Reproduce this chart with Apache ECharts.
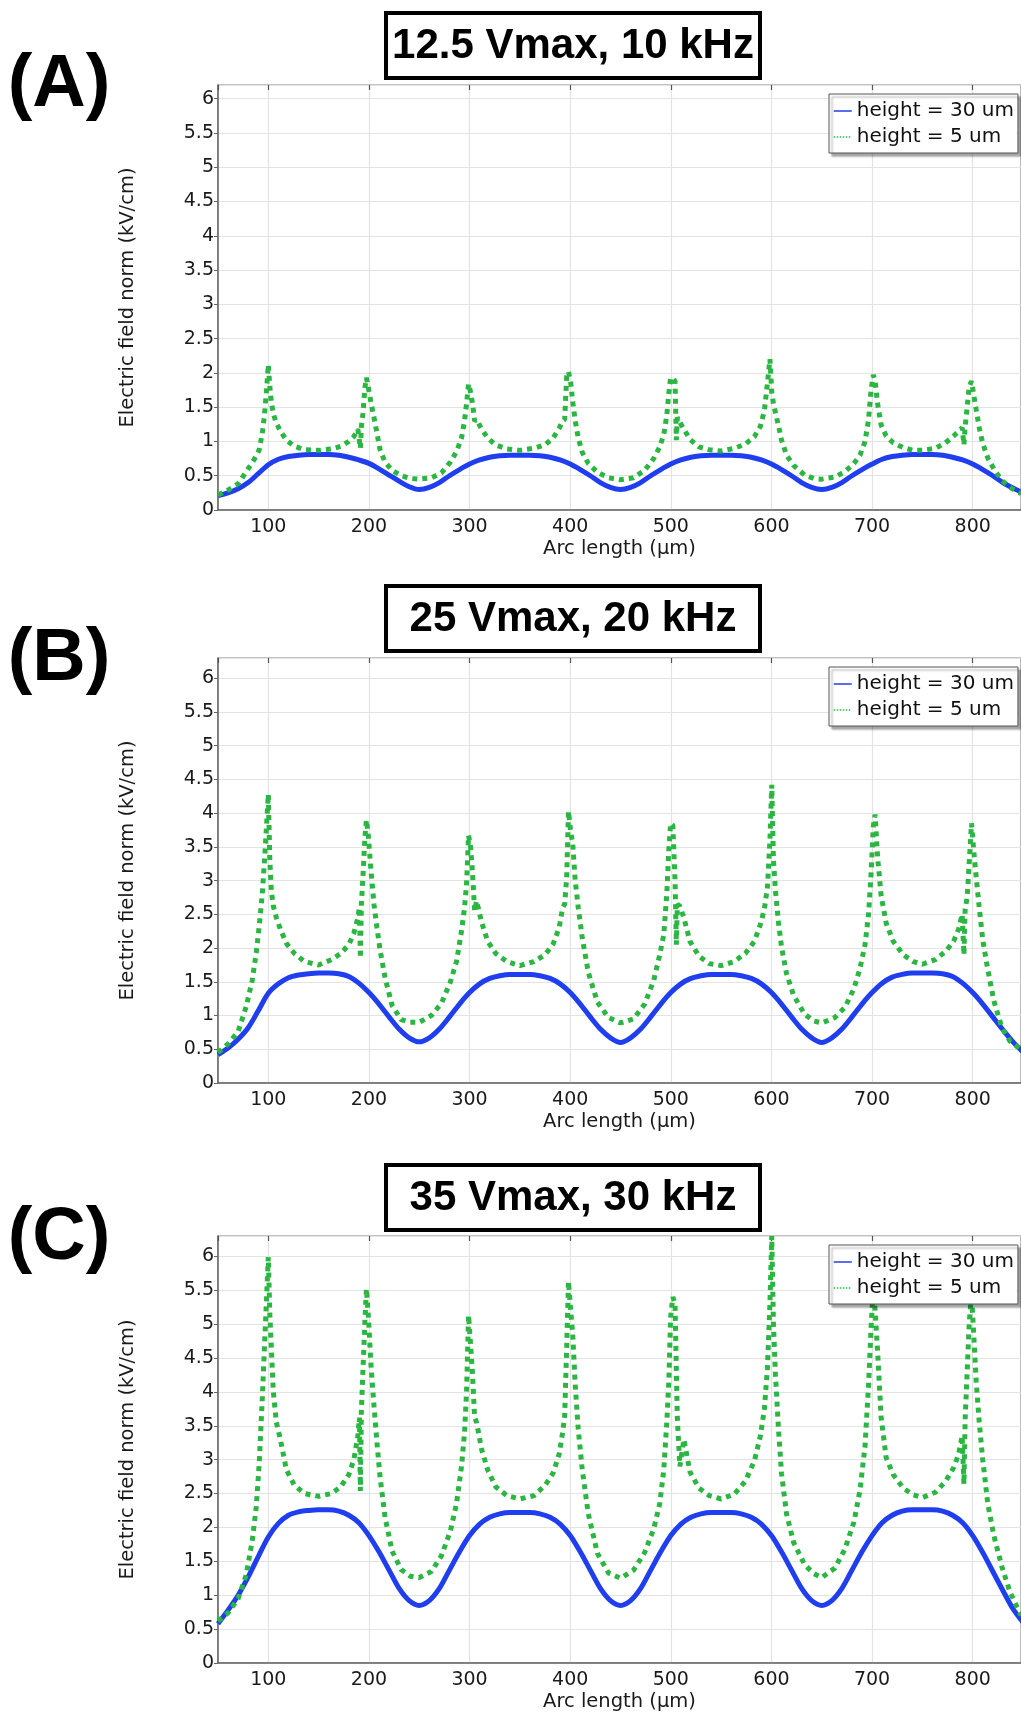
<!DOCTYPE html>
<html>
<head>
<meta charset="utf-8">
<script src="https://cdn.jsdelivr.net/npm/echarts@6/dist/echarts.min.js"></script>
<style>
  html, body { margin: 0; padding: 0; background: #fff; }
  #chart { width: 1021px; height: 1713px; }
</style>
</head>
<body>
<div id="chart"></div>
<script>
// panel headings
var panelTitles = ['12.5 Vmax, 10 kHz', '25 Vmax, 20 kHz', '35 Vmax, 30 kHz'];
var panelLetters = ['(A)', '(B)', '(C)'];
var yMaxes = [6.2, 6.3, 6.3];
var seriesNames = ['height = 30 um', 'height = 5 um'];

// height = 30 um, sampled every 10 um from 50 to 850
var blueX = [50, 60, 70, 80, 90, 100, 110, 120, 130, 140,
  150, 160, 170, 180, 190, 200, 210, 220, 230, 240,
  250, 260, 270, 280, 290, 300, 310, 320, 330, 340,
  350, 360, 370, 380, 390, 400, 410, 420, 430, 440,
  450, 460, 470, 480, 490, 500, 510, 520, 530, 540,
  550, 560, 570, 580, 590, 600, 610, 620, 630, 640,
  650, 660, 670, 680, 690, 700, 710, 720, 730, 740,
  750, 760, 770, 780, 790, 800, 810, 820, 830, 840,
  850];
var blueA = [0.21, 0.25, 0.31, 0.40, 0.53, 0.66, 0.74, 0.78, 0.80, 0.81,
  0.81, 0.81, 0.80, 0.77, 0.73, 0.68, 0.60, 0.51, 0.42, 0.34,
  0.30, 0.33, 0.40, 0.50, 0.59, 0.67, 0.73, 0.77, 0.79, 0.80,
  0.80, 0.80, 0.79, 0.77, 0.73, 0.67, 0.59, 0.50, 0.40, 0.33,
  0.30, 0.33, 0.40, 0.50, 0.59, 0.67, 0.73, 0.77, 0.79, 0.80,
  0.80, 0.80, 0.79, 0.77, 0.73, 0.67, 0.59, 0.50, 0.40, 0.33,
  0.30, 0.33, 0.40, 0.50, 0.59, 0.67, 0.74, 0.78, 0.80, 0.81,
  0.81, 0.81, 0.80, 0.77, 0.73, 0.67, 0.59, 0.50, 0.40, 0.32,
  0.25];
var blueB = [0.42, 0.52, 0.65, 0.82, 1.07, 1.33, 1.47, 1.56, 1.60, 1.62,
  1.63, 1.63, 1.62, 1.58, 1.48, 1.34, 1.17, 0.98, 0.80, 0.67,
  0.61, 0.67, 0.80, 0.98, 1.17, 1.34, 1.47, 1.55, 1.59, 1.61,
  1.61, 1.61, 1.59, 1.55, 1.47, 1.34, 1.17, 0.98, 0.80, 0.67,
  0.60, 0.67, 0.80, 0.98, 1.17, 1.34, 1.47, 1.55, 1.59, 1.61,
  1.61, 1.61, 1.59, 1.55, 1.47, 1.34, 1.17, 0.98, 0.80, 0.67,
  0.60, 0.67, 0.80, 0.98, 1.17, 1.34, 1.48, 1.57, 1.61, 1.63,
  1.63, 1.63, 1.62, 1.58, 1.48, 1.34, 1.17, 0.98, 0.79, 0.61,
  0.46];
var blueC = [0.58, 0.78, 1.00, 1.27, 1.57, 1.86, 2.06, 2.18, 2.23, 2.25,
  2.26, 2.26, 2.24, 2.18, 2.07, 1.88, 1.64, 1.37, 1.10, 0.92,
  0.85, 0.92, 1.10, 1.37, 1.64, 1.88, 2.05, 2.15, 2.20, 2.22,
  2.22, 2.22, 2.20, 2.15, 2.05, 1.88, 1.64, 1.37, 1.10, 0.92,
  0.85, 0.92, 1.10, 1.37, 1.64, 1.88, 2.05, 2.15, 2.20, 2.22,
  2.22, 2.22, 2.20, 2.15, 2.05, 1.88, 1.64, 1.37, 1.10, 0.92,
  0.85, 0.92, 1.10, 1.37, 1.64, 1.88, 2.07, 2.18, 2.24, 2.26,
  2.26, 2.26, 2.24, 2.18, 2.07, 1.88, 1.63, 1.35, 1.07, 0.80,
  0.60];

// height = 5 um, denser near the electrode edges (one row per stretch)
var greenX = [50, 60, 70, 78, 84, 88, 91, 94, 96, 98, 100,
  101.5, 103, 105, 108, 112, 118, 126, 136,
  150, 163, 172, 180, 185, 189,
  190.5, 191.5, 192.5,
  194, 196, 197.5, 199.5, 202, 205, 208, 211, 216, 223, 232, 241,
  250, 262, 272, 281, 287, 292, 295, 297,
  299, 301, 303, 305, 307, 312, 318, 326, 337,
  350, 364, 375, 383, 389, 392.5, 394.5, 396.5, 398.3, 400.5, 402.5, 405, 408, 412, 418, 427, 438,
  450, 463, 474, 483, 489, 493, 496, 498, 499.8, 502, 504.2, 505.5, 506.5, 509, 513, 519, 528, 538,
  550, 563, 574, 583, 589, 593, 596, 598.5, 600.3, 602, 604, 607, 610, 615, 622, 633, 642,
  650, 663, 673, 682, 688, 693, 696.5, 699, 701.2, 703, 705.5, 709, 714, 721, 731, 741,
  750, 763, 773, 781, 786, 789.5, 791.3, 792.5, 794.5, 796.5, 798.8, 801, 803.5, 806.5, 810, 815, 821, 829, 837, 848];
var greenA = [0.22, 0.29, 0.38, 0.56, 0.69, 0.79, 0.88, 1.12, 1.36, 1.70, 2.12,
  1.80, 1.58, 1.40, 1.27, 1.15, 1.02, 0.93, 0.88,
  0.87, 0.89, 0.93, 1.00, 1.07, 1.18,
  1.20, 0.90, 1.22,
  1.40, 1.78, 1.93, 1.78, 1.57, 1.35, 1.12, 0.88, 0.70, 0.58, 0.50, 0.46,
  0.45, 0.47, 0.54, 0.70, 0.85, 1.05, 1.30, 1.55,
  1.84, 1.72, 1.55, 1.30, 1.32, 1.18, 1.05, 0.95, 0.89,
  0.87, 0.90, 0.95, 1.05, 1.19, 1.30, 1.32, 1.95, 2.02, 1.86, 1.58, 1.30, 1.05, 0.84, 0.68, 0.55, 0.47,
  0.44, 0.47, 0.58, 0.75, 0.92, 1.10, 1.38, 1.70, 1.93, 1.92, 1.88, 1.02, 1.35, 1.28, 1.18, 1.03, 0.92, 0.88,
  0.86, 0.90, 0.96, 1.07, 1.22, 1.45, 1.85, 2.20, 1.72, 1.55, 1.42, 1.23, 1.02, 0.80, 0.65, 0.51, 0.46,
  0.45, 0.48, 0.56, 0.68, 0.80, 1.00, 1.32, 1.75, 1.97, 1.88, 1.55, 1.24, 1.08, 0.98, 0.91, 0.87,
  0.87, 0.90, 0.98, 1.08, 1.15, 1.20, 0.95, 1.22, 1.50, 1.80, 1.88, 1.68, 1.46, 1.20, 0.97, 0.76, 0.60, 0.43, 0.33, 0.24];
var greenB = [0.45, 0.58, 0.76, 1.13, 1.52, 1.93, 2.33, 2.80, 3.25, 3.75, 4.28,
  3.30, 2.85, 2.62, 2.45, 2.28, 2.07, 1.92, 1.80,
  1.75, 1.83, 1.92, 2.05, 2.22, 2.45,
  2.60, 1.85, 2.65,
  3.05, 3.65, 3.90, 3.65, 3.15, 2.65, 2.30, 1.98, 1.56, 1.15, 0.94, 0.90,
  0.90, 1.00, 1.18, 1.50, 1.80, 2.25, 2.60, 2.95,
  3.67, 3.50, 3.10, 2.55, 2.70, 2.38, 2.10, 1.92, 1.80,
  1.74, 1.80, 1.90, 2.06, 2.30, 2.60, 2.65, 3.05, 4.03, 3.72, 3.55, 3.00, 2.60, 2.15, 1.64, 1.20, 0.97,
  0.89, 0.95, 1.17, 1.52, 1.90, 2.20, 2.80, 3.45, 3.85, 3.82, 3.00, 2.05, 2.65, 2.62, 2.45, 2.10, 1.88, 1.77,
  1.74, 1.80, 1.92, 2.10, 2.35, 2.58, 2.90, 3.60, 4.42, 3.30, 2.85, 2.38, 2.02, 1.62, 1.30, 1.02, 0.92,
  0.89, 0.97, 1.12, 1.40, 1.70, 2.05, 2.50, 3.10, 3.80, 3.98, 3.35, 2.78, 2.37, 2.10, 1.90, 1.80,
  1.76, 1.83, 1.95, 2.10, 2.28, 2.50, 1.90, 2.58, 2.75, 3.25, 3.85, 3.45, 3.05, 2.60, 2.12, 1.68, 1.22, 0.82, 0.62, 0.50];
var greenC = [0.62, 0.74, 0.95, 1.30, 1.80, 2.30, 2.95, 3.90, 4.60, 5.30, 5.99,
  5.15, 4.65, 4.00, 3.55, 3.30, 2.85, 2.62, 2.50,
  2.46, 2.50, 2.60, 2.78, 3.00, 3.35,
  3.62, 2.54, 3.72,
  4.30, 5.05, 5.52, 5.10, 4.40, 3.80, 3.25, 2.75, 2.15, 1.65, 1.38, 1.28,
  1.26, 1.35, 1.58, 1.95, 2.35, 2.90, 3.40, 4.00,
  5.13, 4.70, 4.25, 3.62, 3.55, 3.15, 2.85, 2.60, 2.47,
  2.42, 2.47, 2.62, 2.80, 3.08, 3.40, 3.65, 4.65, 5.63, 5.20, 4.85, 4.10, 3.45, 2.85, 2.20, 1.62, 1.33,
  1.25, 1.37, 1.63, 1.98, 2.35, 2.85, 3.55, 4.15, 5.10, 5.40, 5.30, 4.30, 3.60, 2.90, 3.30, 2.82, 2.58, 2.47,
  2.42, 2.49, 2.68, 2.98, 3.35, 3.75, 4.35, 5.30, 6.30, 5.00, 4.25, 3.45, 2.80, 2.20, 1.78, 1.45, 1.32,
  1.26, 1.40, 1.68, 2.08, 2.55, 3.20, 4.10, 4.95, 5.55, 5.20, 4.60, 3.62, 3.03, 2.78, 2.58, 2.48,
  2.44, 2.52, 2.68, 2.88, 3.08, 3.35, 2.64, 3.60, 4.30, 5.00, 5.45, 4.85, 4.15, 3.55, 3.00, 2.35, 1.88, 1.42, 1.05, 0.70];

var blueSets = [blueA, blueB, blueC];
var greenSets = [greenA, greenB, greenC];

// layout of the three panels (pixels)
var gridTops = [85, 658, 1236];
var gridHeights = [425, 425, 432];
var boxTops = [13, 586, 1165];
var letterYs = [86, 660, 1239];

var BLUE = '#1f3ef0';
var GREEN = '#2bb541';
var FONT = 'DejaVu Sans';

function pairs(xs, ys) {
  return xs.map(function (x, i) { return [x, ys[i]]; });
}

var grids = [], xAxes = [], yAxes = [], series = [], legends = [], graphics = [];

for (var i = 0; i < 3; i++) {
  grids.push({
    left: 218, right: -2, top: gridTops[i], height: gridHeights[i],
    show: true, borderColor: '#888', borderWidth: 1.2
  });
  xAxes.push({
    gridIndex: i, type: 'value', min: 50, max: 848, splitNumber: 8,
    name: 'Arc length (\u00b5m)', nameLocation: 'middle', nameGap: 29,
    nameTextStyle: {fontFamily: FONT, fontSize: 19.5, color: '#1a1a1a'},
    axisLine: {lineStyle: {color: '#666', width: 1.5}},
    axisTick: {show: false},
    axisLabel: {fontFamily: FONT, fontSize: 19, color: '#1a1a1a', margin: 8,
      showMinLabel: false, showMaxLabel: false},
    splitLine: {lineStyle: {color: '#e3e3e3', width: 1.2}}
  });
  yAxes.push({
    gridIndex: i, type: 'value', min: 0, max: yMaxes[i], interval: 0.5,
    name: 'Electric field norm (kV/cm)', nameLocation: 'middle', nameGap: 80,
    nameTextStyle: {fontFamily: FONT, fontSize: 19.5, color: '#1a1a1a'},
    axisLine: {show: true, lineStyle: {color: '#666', width: 1.5}},
    axisTick: {show: true, length: 4, lineStyle: {color: '#666'}},
    axisLabel: {fontFamily: FONT, fontSize: 19, color: '#1a1a1a', margin: 4,
      showMaxLabel: false},
    splitLine: {lineStyle: {color: '#e3e3e3', width: 1.2}}
  });
  series.push({
    name: seriesNames[0], type: 'line', xAxisIndex: i, yAxisIndex: i,
    data: pairs(blueX, blueSets[i]), symbol: 'none', smooth: 0.3,
    lineStyle: {color: BLUE, width: 5}, itemStyle: {color: BLUE}
  });
  series.push({
    name: seriesNames[1], type: 'line', xAxisIndex: i, yAxisIndex: i,
    data: pairs(greenX, greenSets[i]), symbol: 'none',
    lineStyle: {color: GREEN, width: 5, type: [5, 5]}, itemStyle: {color: GREEN}
  });
  legends.push({
    orient: 'vertical', left: 829, top: gridTops[i] + 9,
    selectedMode: false,
    data: [
      {name: seriesNames[0], itemStyle: {opacity: 0}, lineStyle: {width: 1.5}},
      {name: seriesNames[1], itemStyle: {opacity: 0}, lineStyle: {width: 1.5, type: [1.5, 1.5]}}
    ],
    itemWidth: 18, itemHeight: 12, itemGap: 6,
    padding: [7, 4, 6, 4],
    backgroundColor: '#fff', borderColor: '#555', borderWidth: 1,
    shadowColor: 'rgba(0,0,0,0.35)', shadowBlur: 2, shadowOffsetX: 3, shadowOffsetY: 3,
    textStyle: {fontFamily: FONT, fontSize: 20, color: '#111', lineHeight: 19}
  });
  graphics.push({
    type: 'rect', z: 10,
    shape: {x: 386, y: boxTops[i], width: 374, height: 65},
    style: {fill: '#fff', stroke: '#000', lineWidth: 4}
  });
  graphics.push({
    type: 'text', z: 11, x: 573, y: boxTops[i] + 33,
    style: {text: panelTitles[i], font: 'bold 42px "Liberation Sans"', fill: '#000',
      align: 'center', verticalAlign: 'middle', textAlign: 'center', textVerticalAlign: 'middle'}
  });
  graphics.push({
    type: 'text', z: 11, x: 59, y: letterYs[i],
    style: {text: panelLetters[i], font: 'bold 74px "Liberation Sans"', fill: '#000',
      align: 'center', verticalAlign: 'middle', textAlign: 'center', textVerticalAlign: 'middle'}
  });
}

// small inward ticks along the top frame
for (var j = 0; j < 3; j++) {
  xAxes.push({
    gridIndex: j, type: 'value', position: 'top', min: 50, max: 848, splitNumber: 8,
    axisLine: {show: false},
    axisTick: {show: true, inside: true, length: 5, lineStyle: {color: '#555', width: 1.2}},
    axisLabel: {show: false},
    splitLine: {show: false}
  });
}

var chart = echarts.init(document.getElementById('chart'), null, {renderer: 'canvas'});
chart.setOption({
  animation: false,
  backgroundColor: '#fff',
  grid: grids,
  xAxis: xAxes,
  yAxis: yAxes,
  legend: legends,
  series: series,
  graphic: graphics
});
</script>
</body>
</html>
